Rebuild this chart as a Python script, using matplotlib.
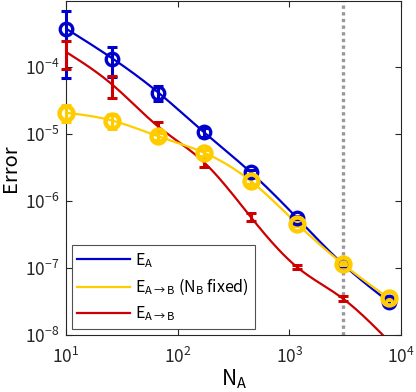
import matplotlib
matplotlib.use("Agg")
import matplotlib.pyplot as plt
import numpy as np

# data
n_a = [10, 26, 67, 172, 450, 1170, 3000, 7800]
err_a = [3.8e-4, 1.36e-4, 4.2e-5, 1.07e-5, 2.7e-6, 5.6e-7, 1.15e-7, 3.1e-8]
err_a_sd = [3.1e-4, 0.65e-4, 1.1e-5, 1.5e-6, 2.5e-7, 4e-8, 8e-9, 3e-9]
err_ab_fixed = [2.1e-5, 1.6e-5, 9.3e-6, 5.3e-6, 2.0e-6, 4.6e-7, 1.15e-7, 3.5e-8]
err_ab_fixed_sd = [0.6e-5, 0.4e-5, 1.2e-6, 6e-7, 2e-7, 3e-8, 6e-9, 2e-9]
err_ab = [1.7e-4, 5.5e-5, 1.3e-5, 3.8e-6, 5.8e-7, 1.03e-7, 3.5e-8, 8e-9]
err_ab_sd = [0.76e-4, 2.0e-5, 2.5e-6, 6e-7, 8e-8, 8e-9, 3e-9, 1e-9]
n_fixed = 3000
y_min, y_max = 1e-8, 9.8e-4

BLUE = "#0000CC"
YELLOW = "#FFCC00"
RED = "#CC0000"

plt.rcParams["font.family"] = ["Noto Sans CJK JP", "DejaVu Sans"]
plt.rcParams["mathtext.fontset"] = "custom"
plt.rcParams["mathtext.rm"] = "Noto Sans CJK JP"
plt.rcParams["mathtext.it"] = "Noto Sans CJK JP"
plt.rcParams["mathtext.sf"] = "Noto Sans CJK JP"


def smooth(x, y, num=200):
    # natural cubic spline through the points in log-log space
    lx, ly = np.log10(x), np.log10(y)
    n = len(lx)
    h = np.diff(lx)
    A = np.zeros((n, n))
    b = np.zeros(n)
    A[0, 0] = A[-1, -1] = 1
    for i in range(1, n - 1):
        A[i, i - 1] = h[i - 1]
        A[i, i] = 2 * (h[i - 1] + h[i])
        A[i, i + 1] = h[i]
        b[i] = 3 * ((ly[i + 1] - ly[i]) / h[i] - (ly[i] - ly[i - 1]) / h[i - 1])
    c = np.linalg.solve(A, b)
    xs = np.linspace(lx[0], lx[-1], num)
    idx = np.clip(np.searchsorted(lx, xs) - 1, 0, n - 2)
    dx = xs - lx[idx]
    bb = (ly[idx + 1] - ly[idx]) / h[idx] - h[idx] * (2 * c[idx] + c[idx + 1]) / 3
    dd = (c[idx + 1] - c[idx]) / (3 * h[idx])
    ys = ly[idx] + bb * dx + c[idx] * dx ** 2 + dd * dx ** 3
    return 10 ** xs, 10 ** ys


fig = plt.figure(figsize=(4.16, 3.92), dpi=100)
ax = fig.add_axes([0.159, 0.146, 0.805, 0.851])

ax.axvline(n_fixed, color="#999999", linestyle=(0, (1, 1)), linewidth=2.4, zorder=1)

series = [
    (err_a, err_a_sd, BLUE, "$\\mathregular{E_A}$", "o", 9, 2.4),
    (err_ab, err_ab_sd, RED, "$\\mathregular{E_{A\\rightarrow B}}$", None, 0, 0),
    (err_ab_fixed, err_ab_fixed_sd, YELLOW,
     "$\\mathregular{E_{A\\rightarrow B}}$ (N$_\\mathregular{B}$ fixed)", "o", 10, 3.2),
]
handles = {}
for y, sd, col, lab, mk, ms, mew in series:
    xs, ys = smooth(n_a, y)
    (ln,) = ax.plot(xs, ys, color=col, linewidth=1.6, label=lab, zorder=3)
    handles[lab] = ln
    x_arr, y_arr, sd_arr = np.array(n_a), np.array(y), np.array(sd)
    inside = y_arr - sd_arr >= y_min
    # bars inside the y range overhang the axis edge freely, the rest are cut
    for mask, clip in ((inside, False), (~inside, True)):
        if not mask.any():
            continue
        eb = ax.errorbar(x_arr[mask], y_arr[mask], yerr=sd_arr[mask], fmt="none",
                         ecolor=col, elinewidth=2.2, capsize=3.5, capthick=2.2,
                         zorder=4)
        for art in eb.lines[1] + eb.lines[2]:
            art.set_clip_on(clip)
    if mk:
        ax.plot(n_a, y, linestyle="none", marker=mk, markersize=ms,
                markerfacecolor="none", markeredgecolor=col,
                markeredgewidth=mew, zorder=5, clip_on=False)

ax.set_xscale("log")
ax.set_yscale("log")
ax.set_xlim(10, 1e4)
ax.set_ylim(y_min, y_max)
ax.set_xticks([1e1, 1e2, 1e3, 1e4])
ax.set_yticks([1e-8, 1e-7, 1e-6, 1e-5, 1e-4])
ax.minorticks_off()
ax.tick_params(direction="in", top=True, right=True, labelsize=12.5,
               length=4, width=0.8, colors="#262626")
ax.tick_params(axis="x", pad=9)
ax.tick_params(axis="y", pad=5)
for s in ax.spines.values():
    s.set_color("#262626")
    s.set_linewidth(0.8)

ax.set_xlabel("N$_\\mathregular{A}$", fontsize=15, labelpad=0)
ax.set_ylabel("Error", fontsize=14.5, labelpad=3)

order = [series[0][3], series[2][3], series[1][3]]
leg = ax.legend([handles[k] for k in order], order, loc="lower left",
                fontsize=11.5, frameon=True, fancybox=False, edgecolor="#262626",
                handlelength=3.3, handletextpad=0.35, labelspacing=0.45,
                borderpad=0.35, borderaxespad=0, bbox_to_anchor=(0.016, 0.018))
leg.get_frame().set_linewidth(0.8)

fig.savefig("out.png", dpi=100)
